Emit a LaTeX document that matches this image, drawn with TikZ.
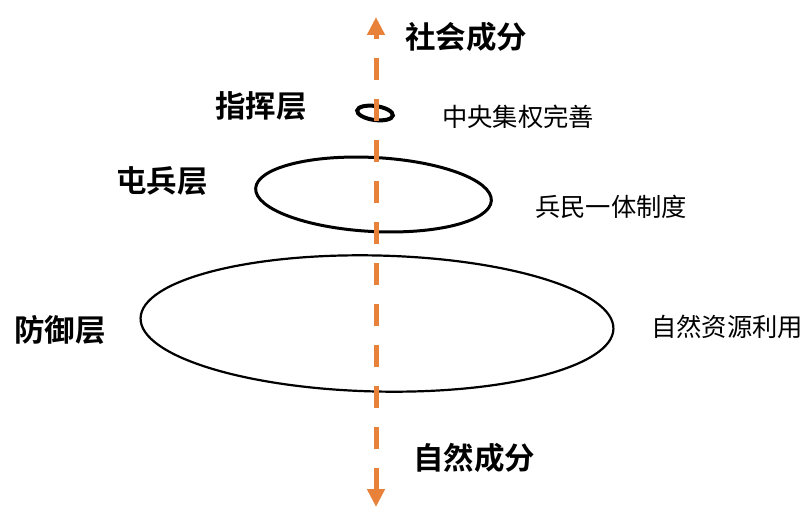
\documentclass[tikz,border=0pt]{standalone}
\usepackage{fontspec}
\usetikzlibrary{arrows.meta,shapes.geometric}
\newfontfamily\cjk{Noto Sans CJK SC}[BoldFont={Noto Sans CJK SC Bold}]
\definecolor{axisorange}{HTML}{E8823A}
\tikzset{
  layer/.style={draw=black, ellipse, inner sep=0pt, outer sep=0pt},
  bigtitle/.style={anchor=west, inner sep=0pt, font=\cjk\bfseries\fontsize{30.5}{30.5}\selectfont},
  sidelabel/.style={anchor=west, inner sep=0pt, font=\cjk\fontsize{25.3}{25.3}\selectfont},
  axisline/.style={draw=axisorange, line width=5pt, dash pattern=on 22pt off 19pt,
    {Triangle[width=17pt,length=18pt]}-{Triangle[width=17pt,length=18pt]}}
}
\begin{document}
\begin{tikzpicture}[x=1pt,y=-1pt]
\useasboundingbox[fill=white] (0,0) rectangle (811,519);
% layers
\node[layer, line width=4pt, minimum width=36pt, minimum height=14pt, rotate=-8] (ring) at (375,113) {};
\node[layer, line width=3pt, minimum width=236pt, minimum height=74pt, rotate=-3] (mid) at (373.5,194.5) {};
\node[layer, line width=2.2pt, minimum width=473pt, minimum height=136pt, rotate=-1.3] (big) at (377,323.5) {};
% axis
\coordinate (top) at (376,17);
\coordinate (bot) at (376,507);
\draw[axisline] (bot) -- (top);
% titles
\node[bigtitle] (social) at (405,37) {社会成分};
\node[bigtitle] (natural) at (413,458) {自然成分};
\node[bigtitle] (cmd) at (215,106) {指挥层};
\node[bigtitle] (garrison) at (116,181) {屯兵层};
\node[bigtitle] (defense) at (14,330) {防御层};
% side labels
\node[sidelabel] (central) at (442,117) {中央集权完善};
\node[sidelabel] (soldier) at (535,207) {兵民一体制度};
\node[sidelabel] (nature) at (651,327) {自然资源利用};
\end{tikzpicture}
\end{document}
